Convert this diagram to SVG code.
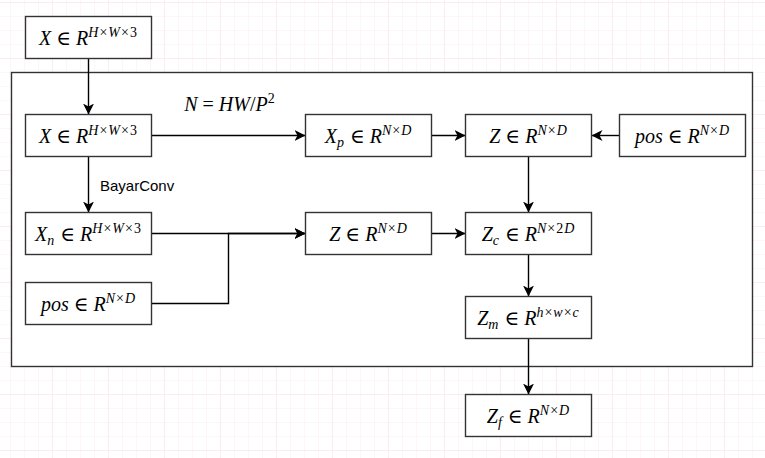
<svg xmlns="http://www.w3.org/2000/svg" width="765" height="458" viewBox="0 0 765 458">
<style>
.box{fill:#fff;stroke:#333;stroke-width:1.4}
.frame{fill:#fff;stroke:#333;stroke-width:1.4}
.edge{fill:none;stroke:#000;stroke-width:1.4}
.m{font-family:"Liberation Serif","DejaVu Serif",serif;font-size:20px;font-style:italic;fill:#000;text-anchor:middle}
.u{font-style:normal}
.s{font-size:14px;letter-spacing:1px}
.lbl{font-family:"Liberation Sans",Arial,sans-serif;font-size:15px;fill:#000}
</style>
<defs>
<pattern id="grid" patternUnits="userSpaceOnUse" x="52" y="2" width="56" height="56">
<path d="M14.5 0V56M28.5 0V56M42.5 0V56M0 14.5H56M0 28.5H56M0 42.5H56" stroke="#fdf6f8" stroke-width="1" fill="none"/>
<path d="M0.5 0V56M0 0.5H56" stroke="#fcebf0" stroke-width="1" fill="none"/>
</pattern>
<marker id="arr" markerUnits="userSpaceOnUse" markerWidth="14" markerHeight="14" refX="11" refY="6" orient="auto" viewBox="0 0 14 12">
<path d="M0 0.5L11 6L0 11.5L3 6Z" fill="#000"/>
</marker>
</defs>
<rect width="765" height="458" fill="#fff"/>
<rect width="765" height="458" fill="url(#grid)"/>
<rect class="frame" x="11.5" y="72.5" width="741" height="294"/>

<g id="connectors">
<path class="edge" d="M88.5 58.5V114.5" marker-end="url(#arr)"/>
<path class="edge" d="M151.5 135.5H305.5" marker-end="url(#arr)"/>
<path class="edge" d="M88.5 156.5V212.5" marker-end="url(#arr)"/>
<path class="edge" d="M431.5 135.5H465.5" marker-end="url(#arr)"/>
<path class="edge" d="M619.5 135.5H591.5" marker-end="url(#arr)"/>
<path class="edge" d="M528.5 156.5V212.5" marker-end="url(#arr)"/>
<path class="edge" d="M151.5 233.5H305.5" marker-end="url(#arr)"/>
<path class="edge" d="M151.5 303.5H228.5V233.5H305.5" marker-end="url(#arr)"/>
<path class="edge" d="M431.5 233.5H465.5" marker-end="url(#arr)"/>
<path class="edge" d="M528.5 254.5V296.5" marker-end="url(#arr)"/>
<path class="edge" d="M528.5 338.5V394.5" marker-end="url(#arr)"/>
<text class="m" x="230" y="111"><tspan>N</tspan><tspan class="u"> = </tspan><tspan>HW</tspan><tspan class="u">/</tspan><tspan>P</tspan><tspan class="u s" dy="-8">2</tspan></text>
<text class="lbl" x="100" y="191">BayarConv</text>
</g>

<g id="n1">
<rect class="box" x="25.5" y="16.5" width="126" height="42"/>
<text class="m" x="88.5" y="45">X<tspan class="u"> ∈ </tspan>R<tspan class="s" dy="-8.5">H<tspan class="u">×</tspan>W<tspan class="u">×3</tspan></tspan></text>
</g>
<g id="n2">
<rect class="box" x="25.5" y="114.5" width="126" height="42"/>
<text class="m" x="88.5" y="143">X<tspan class="u"> ∈ </tspan>R<tspan class="s" dy="-8.5">H<tspan class="u">×</tspan>W<tspan class="u">×3</tspan></tspan></text>
</g>
<g id="n3">
<rect class="box" x="305.5" y="114.5" width="126" height="42"/>
<text class="m" x="368.5" y="143">X<tspan class="s" dy="4">p</tspan><tspan class="u" dy="-4"> ∈ </tspan>R<tspan class="s" dy="-8.5">N<tspan class="u">×</tspan>D</tspan></text>
</g>
<g id="n4">
<rect class="box" x="465.5" y="114.5" width="126" height="42"/>
<text class="m" x="528.5" y="143">Z<tspan class="u"> ∈ </tspan>R<tspan class="s" dy="-8.5">N<tspan class="u">×</tspan>D</tspan></text>
</g>
<g id="n5">
<rect class="box" x="619.5" y="114.5" width="126" height="42"/>
<text class="m" x="682.5" y="143">pos<tspan class="u"> ∈ </tspan>R<tspan class="s" dy="-8.5">N<tspan class="u">×</tspan>D</tspan></text>
</g>
<g id="n6">
<rect class="box" x="25.5" y="212.5" width="126" height="42"/>
<text class="m" x="88.5" y="241">X<tspan class="s" dy="4">n</tspan><tspan class="u" dy="-4"> ∈ </tspan>R<tspan class="s" dy="-8.5">H<tspan class="u">×</tspan>W<tspan class="u">×3</tspan></tspan></text>
</g>
<g id="n7">
<rect class="box" x="305.5" y="212.5" width="126" height="42"/>
<text class="m" x="368.5" y="241">Z<tspan class="u"> ∈ </tspan>R<tspan class="s" dy="-8.5">N<tspan class="u">×</tspan>D</tspan></text>
</g>
<g id="n8">
<rect class="box" x="465.5" y="212.5" width="126" height="42"/>
<text class="m" x="528.5" y="241">Z<tspan class="s" dy="4">c</tspan><tspan class="u" dy="-4"> ∈ </tspan>R<tspan class="s" dy="-8.5">N<tspan class="u">×2</tspan>D</tspan></text>
</g>
<g id="n9">
<rect class="box" x="25.5" y="282.5" width="126" height="42"/>
<text class="m" x="88.5" y="311">pos<tspan class="u"> ∈ </tspan>R<tspan class="s" dy="-8.5">N<tspan class="u">×</tspan>D</tspan></text>
</g>
<g id="n10">
<rect class="box" x="465.5" y="296.5" width="126" height="42"/>
<text class="m" x="528.5" y="325">Z<tspan class="s" dy="4">m</tspan><tspan class="u" dy="-4"> ∈ </tspan>R<tspan class="s" dy="-8.5">h<tspan class="u">×</tspan>w<tspan class="u">×</tspan>c</tspan></text>
</g>
<g id="n11">
<rect class="box" x="465.5" y="394.5" width="126" height="42"/>
<text class="m" x="528.5" y="423">Z<tspan class="s" dy="4">f</tspan><tspan class="u" dy="-4"> ∈ </tspan>R<tspan class="s" dy="-8.5">N<tspan class="u">×</tspan>D</tspan></text>
</g>
</svg>
